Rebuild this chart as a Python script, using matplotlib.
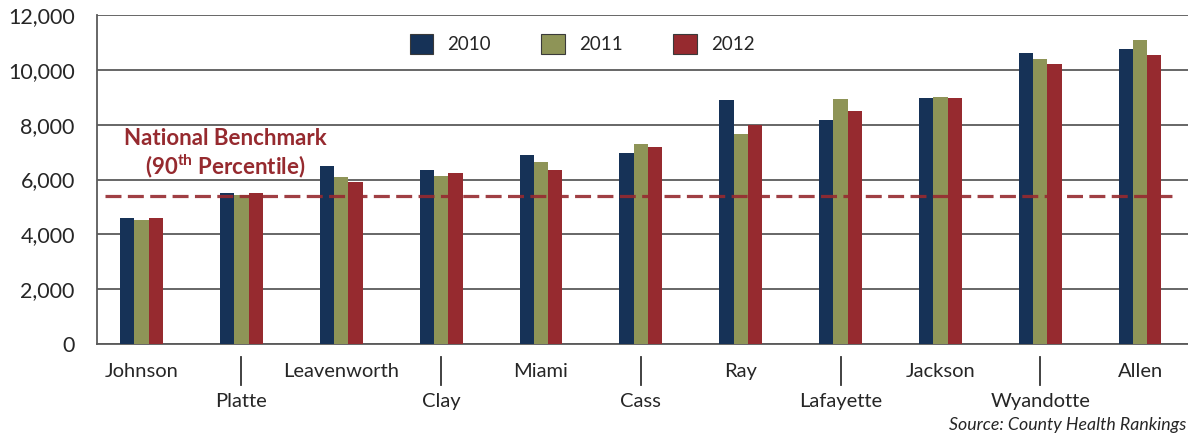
import matplotlib.pyplot as plt
import matplotlib.transforms as mtransforms
from matplotlib.patches import Patch
import numpy as np

plt.rcParams['font.family'] = ['Lato', 'DejaVu Sans']

counties = ["Johnson", "Platte", "Leavenworth", "Clay", "Miami", "Cass",
            "Ray", "Lafayette", "Jackson", "Wyandotte", "Allen"]
years = ["2010", "2011", "2012"]
vals_2010 = [4600, 5490, 6500, 6350, 6900, 6970, 8900, 8180, 8980, 10620, 10770]
vals_2011 = [4530, 5450, 6100, 6130, 6640, 7300, 7660, 8920, 9010, 10400, 11100]
vals_2012 = [4600, 5520, 5920, 6240, 6350, 7190, 8000, 8500, 8980, 10220, 10550]
benchmark = 5400
y_ticks = [0, 2000, 4000, 6000, 8000, 10000, 12000]

colors = ["#163257", "#8E9457", "#962A2F"]
text_color = "#262626"

fig = plt.figure(figsize=(11.88, 4.36), dpi=100)
ax = fig.add_axes([97 / 1188, 1 - 344 / 436, 1 - 97 / 1188, 329 / 436])

x = np.arange(len(counties))
w = 0.143
for k, (vals, c) in enumerate(zip([vals_2010, vals_2011, vals_2012], colors)):
    ax.bar(x + (k - 1) * w, vals, width=w, color=c, zorder=3, linewidth=0)

# benchmark line
ax.plot([-0.37, 10.33], [benchmark, benchmark], color="#962A2F", lw=2.3,
        dashes=(5, 2), alpha=0.9, zorder=4, solid_capstyle='butt')
ax.text(0.84, 7500, "National Benchmark", color="#962A2F", fontsize=16,
        fontweight='bold', ha='center', va='center')
ax.text(0.84, 6470, r"(90$^{\mathregular{th}}$ Percentile)", color="#962A2F",
        fontsize=16, fontweight='bold', ha='center', va='center')

ax.set_xlim(-0.446, 10.48)
ax.set_ylim(0, 12000)
ax.set_yticks(y_ticks)
ax.set_yticklabels([f"{v:,}" for v in y_ticks], fontsize=15.5, color=text_color)
ax.tick_params(axis='y', length=0, pad=16)
ax.set_xticks([])
ax.grid(axis='y', color="#5a5a5a", lw=1.3, zorder=1)
for s in ["top", "right"]:
    ax.spines[s].set_visible(False)
ax.spines["left"].set_color("#5a5a5a")
ax.spines["bottom"].set_color("#5a5a5a")
ax.spines["left"].set_linewidth(1.3)
ax.spines["bottom"].set_linewidth(1.3)

# county labels on two staggered rows
trans = mtransforms.blended_transform_factory(ax.transData, ax.transAxes)
for i, name in enumerate(counties):
    if i % 2 == 0:
        ax.text(i, -0.085, name, transform=trans, ha='center', va='center',
                fontsize=14.5, color=text_color)
    else:
        ax.text(i, -0.176, name, transform=trans, ha='center', va='center',
                fontsize=14.5, color=text_color)
        ax.plot([i, i], [-0.0395, -0.1246], transform=trans, color="#333333",
                lw=1.3, clip_on=False)

handles = [Patch(facecolor=c, edgecolor='#3a3a3a', linewidth=0.8) for c in colors]
fig.legend(handles, years, loc='center', bbox_to_anchor=(582 / 1188, 1 - 44 / 436),
           ncol=3, frameon=False, fontsize=13.5, handlelength=1.25, handleheight=1.25,
           handletextpad=0.75, columnspacing=2.7, labelcolor=text_color)

fig.text(1186 / 1188, 1 - 425 / 436, "Source: County Health Rankings", ha='right',
         va='center', fontsize=12.8, style='italic', color=text_color)

fig.savefig("out.png", dpi=100)
